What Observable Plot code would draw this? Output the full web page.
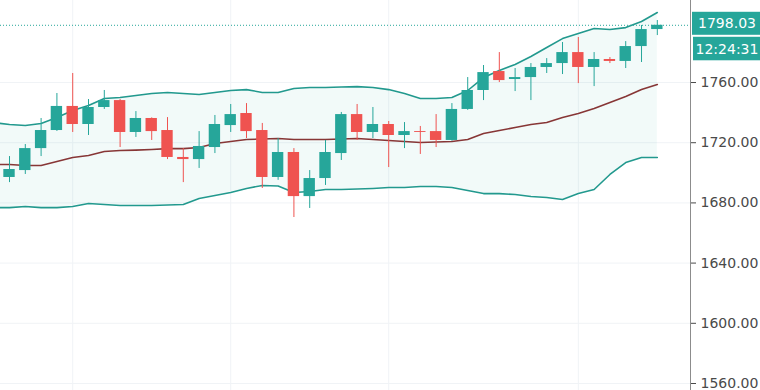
<!DOCTYPE html>
<html>
<head>
<meta charset="utf-8">
<script src="https://cdn.jsdelivr.net/npm/d3@7"></script>
<script src="https://cdn.jsdelivr.net/npm/@observablehq/plot@0.6"></script>
<style>
  html, body { margin: 0; padding: 0; background: #ffffff; }
  #chart svg { display: block; }
</style>
</head>
<body>
<div id="chart"></div>
<script>
// ---- Candles (index 0..41) ----
const opens  = [1696.9,1701.5,1716.1,1728.1,1744.1,1732.1,1743.4,1748.0,1726.8,1736.1,1728.1,1710.2,1708.8,1716.8,1731.4,1739.4,1728.1,1696.9,1713.5,1684.2,1696.2,1712.8,1738.7,1726.8,1732.1,1724.8,1727.4,1727.4,1721.5,1742.1,1754.7,1767.3,1762.0,1763.3,1770.0,1772.6,1779.9,1770.0,1775.3,1774.0,1783.9,1795.2];
const highs  = [1710.8,1718.8,1736.1,1752.7,1766.0,1748.7,1754.7,1748.7,1740.7,1736.5,1736.7,1716.1,1727.4,1738.1,1745.4,1746.0,1732.8,1722.8,1716.1,1701.5,1721.5,1740.1,1745.4,1743.4,1734.1,1733.4,1730.8,1738.7,1746.0,1763.3,1771.3,1779.9,1769.3,1772.6,1775.9,1786.6,1789.9,1779.9,1776.6,1787.2,1797.9,1801.2];
const lows   = [1693.5,1698.9,1710.8,1727.5,1726.8,1724.8,1742.1,1716.8,1723.5,1721.5,1708.8,1693.5,1702.9,1712.8,1726.8,1722.8,1689.6,1695.0,1670.3,1676.3,1691.6,1708.2,1721.5,1722.8,1703.5,1716.1,1712.2,1716.8,1721.0,1741.5,1748.0,1760.0,1754.0,1748.0,1766.0,1765.3,1759.3,1757.3,1772.6,1769.3,1773.3,1791.2];
const closes = [1702.2,1716.1,1728.1,1744.1,1732.1,1743.4,1748.0,1726.8,1736.1,1727.4,1710.2,1708.8,1717.5,1732.1,1738.7,1727.4,1696.9,1713.5,1684.2,1696.2,1713.5,1738.7,1726.8,1732.1,1724.8,1727.4,1726.8,1721.5,1742.1,1754.7,1766.6,1761.3,1763.3,1770.0,1772.6,1779.9,1770.0,1775.3,1774.0,1783.9,1795.2,1798.03];

// ---- Bollinger bands (index -1..41) ----
const bandUpper  = [1733.4,1732.1,1731.4,1732.8,1736.7,1741.4,1744.7,1749.4,1750.0,1751.4,1752.7,1753.4,1752.7,1752.0,1753.4,1754.7,1755.3,1753.4,1753.4,1756.0,1756.7,1756.7,1757.0,1757.3,1756.7,1755.3,1752.7,1749.4,1749.4,1750.0,1754.7,1763.3,1768.0,1772.0,1777.3,1783.3,1789.2,1792.6,1795.9,1795.2,1796.5,1800.5,1806.5];
const bandMiddle = [1705.5,1705.5,1704.9,1704.9,1707.5,1710.2,1711.5,1714.2,1714.8,1715.1,1715.5,1716.1,1716.1,1716.8,1719.5,1720.8,1722.1,1722.5,1722.8,1722.1,1722.1,1722.1,1722.5,1722.8,1722.1,1721.5,1720.8,1720.1,1720.5,1720.8,1722.1,1726.1,1728.1,1730.1,1732.1,1733.4,1736.7,1739.4,1742.7,1746.7,1750.7,1755.3,1758.7];
const bandLower  = [1676.9,1676.9,1677.6,1676.9,1676.9,1677.6,1679.6,1678.9,1678.3,1678.3,1678.3,1678.6,1678.9,1682.9,1684.9,1686.9,1689.6,1691.6,1691.2,1686.9,1687.6,1688.9,1688.9,1689.2,1689.6,1690.2,1690.2,1690.9,1690.9,1690.2,1688.2,1686.2,1686.2,1685.6,1684.3,1683.6,1682.3,1686.2,1688.9,1698.9,1706.8,1710.2,1710.2];
const bandStart = -1;

// ---- Axis / grid ----
const yTicks = [1560, 1600, 1640, 1680, 1720, 1760];
const gridIdx = [4, 14, 24, 36];
const countdown = "12:24:31";

const xDomain = [-0.57, 43.1];
const yDomain = [1555.35, 1814.5];

const UP = "#26a69a", DOWN = "#ef5350";
const candles = opens.map((o, i) => ({i, open: o, high: highs[i], low: lows[i], close: closes[i], up: closes[i] >= o}));
const bands = bandUpper.map((u, k) => ({i: k + bandStart, upper: u, middle: bandMiddle[k], lower: bandLower[k]}));
const lastClose = closes[closes.length - 1];
const halfBody = 0.36;

const W = 760, H = 390, MR = 70;

const plot = Plot.plot({
  width: W, height: H,
  marginLeft: 0, marginRight: MR, marginTop: 0, marginBottom: 0,
  style: {fontFamily: "DejaVu Sans, sans-serif", fontSize: "14px", color: "#4a4a4a", background: "#ffffff"},
  x: {domain: xDomain, axis: null},
  y: {domain: yDomain, axis: "right", ticks: yTicks, tickFormat: d => d.toFixed(2), tickSize: 5, tickPadding: 5, label: null},
  marks: [
    Plot.ruleY(yTicks, {stroke: "#f0f3f6"}),
    Plot.ruleX(gridIdx, {stroke: "#f0f3f6"}),
    Plot.areaY(bands, {x: "i", y1: "lower", y2: "upper", fill: "#26a69a", fillOpacity: 0.06, curve: "linear"}),
    Plot.lineY(bands, {x: "i", y: "upper", stroke: "#22998e", strokeWidth: 1.6}),
    Plot.lineY(bands, {x: "i", y: "lower", stroke: "#22998e", strokeWidth: 1.6}),
    Plot.lineY(bands, {x: "i", y: "middle", stroke: "#873636", strokeWidth: 1.6}),
    Plot.ruleX(candles, {x: "i", y1: "low", y2: "high", stroke: d => d.up ? UP : DOWN, strokeWidth: 1}),
    Plot.rect(candles, {x1: d => d.i - halfBody, x2: d => d.i + halfBody, y1: "open", y2: "close", fill: d => d.up ? UP : DOWN}),
    Plot.ruleY([lastClose], {stroke: UP, strokeDasharray: "1,2", strokeWidth: 1}),
    Plot.ruleX([xDomain[1]], {stroke: "#8c8c8c"})
  ]
});

document.getElementById("chart").appendChild(plot);

// price tag + countdown on the right scale
const ys = plot.scale("y");
const svg = d3.select(plot);
const yc = ys.apply(lastClose) - 1.5;
const x0 = W - MR + 2;
const cx = (x0 + W) / 2 + 1;
const g = svg.append("g").attr("font-family", "DejaVu Sans, sans-serif").attr("font-size", 14).attr("text-anchor", "middle");
g.append("rect").attr("x", x0).attr("y", yc - 11.5).attr("width", W - x0).attr("height", 23).attr("fill", UP);
g.append("text").attr("x", cx).attr("y", yc).attr("dy", "0.35em").attr("fill", "#ffffff").text(lastClose.toFixed(2));
g.append("rect").attr("x", x0 + 1).attr("y", yc + 13.5).attr("width", W - x0 - 1).attr("height", 23.5).attr("fill", UP);
g.append("text").attr("x", cx).attr("y", yc + 25.5).attr("dy", "0.35em").attr("fill", "#ffffff").text(countdown);
</script>
</body>
</html>
